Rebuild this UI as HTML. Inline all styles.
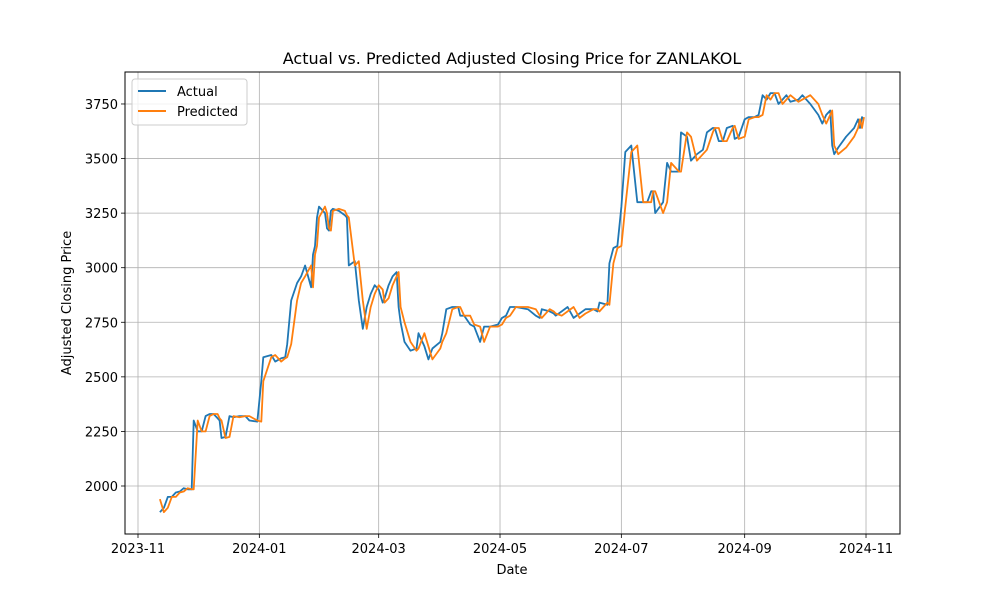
<!DOCTYPE html>
<html><head><meta charset="utf-8"><style>
body{margin:0;background:#fff;font-family:"Liberation Sans","DejaVu Sans",sans-serif}
svg text{font-family:"DejaVu Sans","Liberation Sans",sans-serif;fill:#000}
</style></head><body>
<svg id="chart" width="1000" height="600" xmlns="http://www.w3.org/2000/svg">
<rect width="1000" height="600" fill="#fff"/>
<g id="grid"></g>
<g id="series"></g>
<rect x="125" y="72" width="775" height="462" fill="none" stroke="#000" stroke-width="1"/>
<g id="ticks"></g>
<text x="512" y="64" font-size="16" text-anchor="middle">Actual vs. Predicted Adjusted Closing Price for ZANLAKOL</text>
<text x="512" y="574" font-size="13" text-anchor="middle">Date</text>
<text x="71" y="303" font-size="13" text-anchor="middle" transform="rotate(-90 71 303)">Adjusted Closing Price</text>
<g>
<rect x="132" y="79" width="115" height="46" rx="3" fill="#fff" fill-opacity="0.8" stroke="#ccc"/>
<line x1="138" y1="91" x2="166" y2="91" stroke="#1f77b4" stroke-width="2"/>
<text x="177" y="96" font-size="13">Actual</text>
<line x1="138" y1="111" x2="166" y2="111" stroke="#ff7f0e" stroke-width="2"/>
<text x="177" y="116" font-size="13">Predicted</text>
</g>
</svg>
<script>
const days=[11,13,15,17,19,21,23,25,27,28,30,32,34,36,38,40,41,42,44,46,48,51,54,56,60,62,63,67,69,72,74,75,77,80,82,84,87,88,89,90,91,94,95,96,97,98,101,104,105,106,109,111,113,115,117,119,121,123,124,126,128,130,131,132,134,137,140,141,144,146,148,152,153,155,158,161,162,164,167,169,172,174,177,181,183,185,187,190,196,200,202,203,207,209,210,213,216,219,222,225,229,231,232,236,237,239,241,243,245,248,251,254,256,258,259,260,264,266,268,272,273,276,278,281,284,286,289,290,292,294,296,299,300,302,305,307,310,312,314,316,318,320,322,324,326,328,332,334,338,342,344,346,348,349,350,352,356,360,362,363,364,365];
const actual=[1880,1900,1950,1950,1970,1975,1990,1985,1985,2300,2250,2250,2320,2330,2330,2310,2300,2220,2225,2320,2315,2320,2320,2300,2295,2480,2590,2600,2570,2585,2590,2650,2850,2930,2960,3010,2910,3060,3100,3230,3280,3250,3180,3170,3260,3270,3260,3240,3230,3010,3030,2850,2720,2820,2880,2920,2900,2840,2860,2920,2960,2980,2820,2750,2660,2620,2630,2700,2640,2580,2630,2660,2700,2810,2820,2820,2780,2780,2740,2730,2660,2730,2730,2740,2770,2780,2820,2820,2810,2780,2770,2810,2800,2790,2780,2800,2820,2770,2790,2810,2810,2800,2840,2830,3020,3090,3100,3280,3530,3560,3300,3300,3300,3350,3350,3250,3300,3480,3440,3440,3620,3600,3490,3520,3540,3620,3640,3640,3580,3580,3640,3650,3590,3600,3680,3690,3690,3700,3790,3770,3800,3800,3750,3770,3790,3760,3770,3790,3750,3700,3660,3700,3720,3560,3520,3550,3600,3640,3680,3640,3690,3680];
const predicted=[1940,1880,1900,1950,1950,1970,1975,1990,1985,1985,2300,2250,2250,2320,2330,2330,2310,2300,2220,2225,2320,2315,2320,2320,2300,2295,2480,2590,2600,2570,2585,2590,2650,2850,2930,2960,3010,2910,3060,3100,3230,3280,3250,3180,3170,3260,3270,3260,3240,3230,3010,3030,2850,2720,2820,2880,2920,2900,2840,2860,2920,2960,2980,2820,2750,2660,2620,2630,2700,2640,2580,2630,2660,2700,2810,2820,2820,2780,2780,2740,2730,2660,2730,2730,2740,2770,2780,2820,2820,2810,2780,2770,2810,2800,2790,2780,2800,2820,2770,2790,2810,2810,2800,2840,2830,3020,3090,3100,3280,3530,3560,3300,3300,3300,3350,3350,3250,3300,3480,3440,3440,3620,3600,3490,3520,3540,3620,3640,3640,3580,3580,3640,3650,3590,3600,3680,3690,3690,3700,3790,3770,3800,3800,3750,3770,3790,3760,3770,3790,3750,3700,3660,3700,3720,3560,3520,3550,3600,3640,3680,3640,3690];
const xTickLabels=["2023-11","2024-01","2024-03","2024-05","2024-07","2024-09","2024-11"];
const xTickDays=[0,61,121,182,243,305,366];
const yTicks=[2000,2250,2500,2750,3000,3250,3500,3750];

const NS="http://www.w3.org/2000/svg";
function xs(d){return 138+d*1.9891;}
function ys(v){return 486-(v-2000)*0.2183;}
function mk(tag,attrs,parent){const e=document.createElementNS(NS,tag);for(const k in attrs)e.setAttribute(k,attrs[k]);parent.appendChild(e);return e;}
const grid=document.getElementById('grid'),ticks=document.getElementById('ticks'),ser=document.getElementById('series');
xTickDays.forEach((d,i)=>{
  const x=xs(d);
  const g=mk('line',{x1:x,x2:x,y1:72,y2:534,stroke:'#b0b0b0','stroke-width':0.8},grid);
  
  
  mk('line',{x1:x,x2:x,y1:534,y2:538,stroke:'#000','stroke-width':0.8},ticks);
  const t=mk('text',{x:x,y:553,'font-size':13,'text-anchor':'middle'},ticks);
  t.textContent=xTickLabels[i];
  
  
});
yTicks.forEach(v=>{
  const y=ys(v);
  const g=mk('line',{x1:125,x2:900,y1:y,y2:y,stroke:'#b0b0b0','stroke-width':0.8},grid);
  
  
  mk('line',{x1:121,x2:125,y1:y,y2:y,stroke:'#000','stroke-width':0.8},ticks);
  const t=mk('text',{x:118,y:y+5,'font-size':13,'text-anchor':'end'},ticks);
  t.textContent=v;
  
  
});
function line(vals,color,name){
  const n=Math.min(days.length,vals.length);
  let d='';
  for(let i=0;i<n;i++)d+=(i?'L':'M')+xs(days[i]).toFixed(1)+','+ys(vals[i]).toFixed(1);
  const p=mk('path',{d:d,fill:'none',stroke:color,'stroke-width':1.8,'stroke-linejoin':'round'},ser);
  
  
}
line(actual,'#1f77b4','actual-line');
line(predicted,'#ff7f0e','predicted-line');
</script>
</body></html>
